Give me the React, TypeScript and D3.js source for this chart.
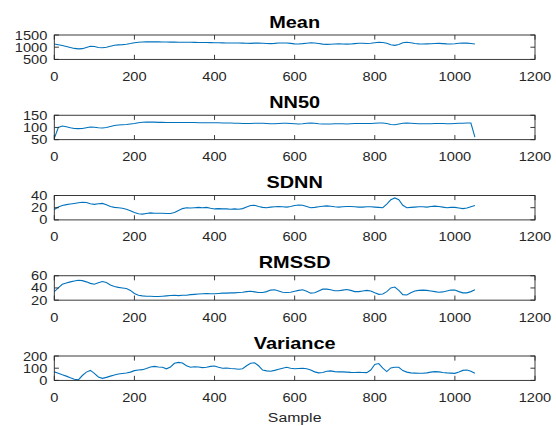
import React, { useEffect, useRef } from 'react';
import * as d3 from 'd3';

// sample index, one reading every 10 samples
const samples = d3.range(0, 1051, 10);

const meanValues = [
  1130, 1100, 1070, 1030, 990, 950, 930, 940, 990, 1040,
  1030, 990, 975, 1000, 1040, 1080, 1095, 1105, 1120, 1150,
  1185, 1205, 1215, 1220, 1222, 1220, 1218, 1215, 1212, 1210,
  1208, 1205, 1205, 1203, 1200, 1198, 1195, 1192, 1190, 1188,
  1185, 1180, 1178, 1175, 1172, 1175, 1170, 1165, 1160, 1158,
  1165, 1170, 1160, 1150, 1145, 1155, 1170, 1175, 1170, 1155,
  1135, 1130, 1145, 1165, 1185, 1175, 1150, 1125, 1115, 1120,
  1130, 1135, 1130, 1125, 1130, 1145, 1160, 1160, 1150, 1160,
  1185, 1200, 1195, 1165, 1100, 1075, 1110, 1180, 1200, 1180,
  1150, 1135, 1130, 1135, 1140, 1150, 1155, 1145, 1135, 1130,
  1140, 1160, 1170, 1165, 1150, 1130,
];

const nn50Values = [
  55, 100, 106, 103, 99, 96, 95, 96, 99, 102,
  101, 99, 98, 100, 104, 108, 110, 111, 112, 114,
  116, 119, 121, 122, 122, 122, 121, 121, 120, 120,
  120, 120, 120, 120, 120, 120, 119, 119, 119, 119,
  119, 119, 118, 118, 118, 117, 117, 116, 116, 116,
  117, 117, 117, 116, 115, 115, 116, 117, 117, 116,
  115, 114, 115, 117, 118, 117, 115, 114, 114, 114,
  115, 115, 115, 114, 115, 116, 116, 116, 116, 116,
  117, 118, 118, 116, 112, 111, 114, 117, 118, 117,
  116, 115, 115, 115, 115, 116, 116, 116, 115, 115,
  116, 117, 117, 118, 118, 60,
];

const sdnnValues = [
  17, 21, 23.5, 25, 26, 27, 28, 29, 28.5, 26.5,
  25.5, 26.5, 27, 25, 22, 20.5, 20, 19, 17.5, 15,
  12, 10, 9.5, 10.5, 11.5, 11, 11, 10.8, 10.5, 10.6,
  12, 15.5, 18.5, 20, 19.5, 20, 20.5, 20, 20.5, 19,
  18, 18.5, 18, 18, 17.5, 18, 17.5, 18.5, 21, 23.5,
  24, 22, 20.5, 20, 21, 21.5, 22, 21.5, 21, 22,
  23.5, 24.5, 24, 22, 20, 20.5, 21.5, 22.5, 23, 22.5,
  21.5, 21, 21.5, 22, 22, 21.5, 21, 21, 21.5, 21.5,
  21, 20.5, 20, 26, 33, 36, 33, 24, 20, 20.5,
  21, 21.5, 21.5, 21, 22, 22.5, 22, 21, 20, 20.5,
  20.5, 19.5, 18.5, 19.5, 21.5, 23.5,
];

const rmssdValues = [
  34, 40, 46, 48, 50, 51.5, 52.5, 52, 50, 47.5,
  46, 48.5, 50.5, 49, 45, 42.5, 41, 40, 39, 36,
  31, 28, 27, 26.5, 26.5, 26, 26, 26.5, 27, 27.5,
  28, 27.5, 28, 28, 29, 29.5, 30, 30.5, 31, 30.5,
  30.5, 31, 31.5, 31.5, 32, 32, 32.5, 33, 34, 34.5,
  33.5, 32.5, 32.5, 34, 36.5, 37, 35, 33, 32.5, 33,
  34.5, 36, 37, 34.5, 31.5, 32, 35, 38, 38, 37,
  35.5, 35.5, 36.5, 37.5, 36, 34, 34, 35, 36, 35,
  32, 29.5, 30, 34, 40, 41.5, 36, 29, 28.5, 32,
  35, 36, 36.5, 36, 35, 34, 33, 33.5, 35, 36.5,
  36.5, 34, 32, 32, 34, 37,
];

const varianceValues = [
  70, 58, 46, 35, 22, 10, 5, 40, 68, 82,
  58, 28, 17, 25, 35, 45, 52, 57, 60, 68,
  80, 85, 88, 98, 110, 115, 110, 108, 95, 110,
  140, 148, 142, 120, 108, 112, 110, 105, 108, 115,
  118, 108, 100, 102, 98, 95, 92, 95, 120, 140,
  145, 120, 85, 78, 75, 82, 92, 100, 108, 100,
  95, 98, 100, 95, 85, 70, 62, 65, 75, 78,
  72, 70, 70, 68, 66, 65, 66, 65, 64, 85,
  130, 138, 100, 72, 102, 108, 108, 80, 68, 62,
  60, 58, 58, 62, 68, 72, 70, 65, 62, 60,
  58, 68, 82, 85, 75, 58,
];

const titles = ['Mean', 'NN50', 'SDNN', 'RMSSD', 'Variance'];
const seriesList = [meanValues, nn50Values, sdnnValues, rmssdValues, varianceValues];
const yDomains = [[500, 1500], [50, 150], [0, 40], [20, 60], [0, 200]];
const yTickValues = [[500, 1000, 1500], [50, 100, 150], [0, 20, 40], [20, 40, 60], [0, 100, 200]];
const xTickValues = [0, 200, 400, 600, 800, 1000, 1200];
const xLabel = 'Sample';

const App = () => {
  const svgRef = useRef<SVGSVGElement>(null);

  useEffect(() => {
    const width = 556;
    const height = 426;
    const left = 54.3;
    const right = 535;
    const firstTop = 35;
    const rowStep = 80.25;
    const panelH = 24.4;
    const tickLen = 4.6;
    const axisColor = '#262626';
    const lineColor = '#0072BD';
    const font = '"Liberation Sans", Arial, Helvetica, sans-serif';
    const stretch = 1.17; // text in the figure is a bit wide

    const svg = d3.select(svgRef.current)
      .attr('width', width)
      .attr('height', height);
    svg.selectAll('*').remove();

    const x = d3.scaleLinear().domain([0, 1200]).range([left, right]);

    const addText = (tx: number, ty: number, txt: string, anchor: string, size: number, weight = 'normal') =>
      svg.append('text')
        .attr('transform', `translate(${tx},${ty}) scale(${stretch},1)`)
        .attr('text-anchor', anchor)
        .style('font-family', font)
        .style('font-size', `${size}px`)
        .style('font-weight', weight)
        .attr('fill', weight === 'bold' ? '#000' : axisColor)
        .text(txt);

    seriesList.forEach((values, i) => {
      const top = firstTop + i * rowStep;
      const bottom = top + panelH;

      const y = d3.scaleLinear().domain(yDomains[i]).range([bottom, top]);

      const line = d3.line<number>()
        .x((_, j) => x(samples[j]))
        .y(d => y(d));

      svg.append('path')
        .datum(values)
        .attr('d', line)
        .attr('fill', 'none')
        .attr('stroke', lineColor)
        .attr('stroke-width', 1.1);

      // axes box
      svg.append('rect')
        .attr('x', left)
        .attr('y', top)
        .attr('width', right - left)
        .attr('height', panelH)
        .attr('fill', 'none')
        .attr('stroke', axisColor)
        .attr('stroke-width', 0.9);

      const g = svg.append('g')
        .attr('stroke', axisColor)
        .attr('stroke-width', 0.9);

      xTickValues.forEach(t => {
        g.append('line').attr('x1', x(t)).attr('x2', x(t)).attr('y1', bottom).attr('y2', bottom - tickLen);
        g.append('line').attr('x1', x(t)).attr('x2', x(t)).attr('y1', top).attr('y2', top + tickLen);
        addText(x(t), bottom + 21.4, String(t), 'middle', 12.5);
      });

      yTickValues[i].forEach(t => {
        g.append('line').attr('x1', left).attr('x2', left + tickLen).attr('y1', y(t)).attr('y2', y(t));
        g.append('line').attr('x1', right).attr('x2', right - tickLen).attr('y1', y(t)).attr('y2', y(t));
        addText(left - 7, y(t) + 4.5, String(t), 'end', 12.5);
      });

      addText((left + right) / 2, top - 7.5, titles[i], 'middle', 17, 'bold');
    });

    const lastBottom = firstTop + 4 * rowStep + panelH;
    addText((left + right) / 2, lastBottom + 41.5, xLabel, 'middle', 13.5);
  }, []);

  return (
    <div className="ChartFigure">
      <svg ref={svgRef} style={{ position: 'absolute', left: 0, top: 0, background: '#fff' }}></svg>
    </div>
  );
};

export default App;
